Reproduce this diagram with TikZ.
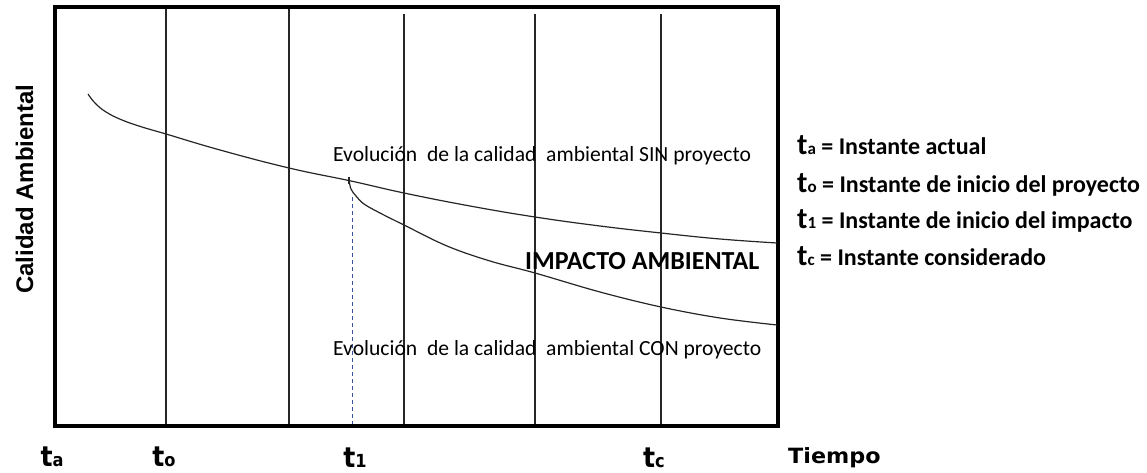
\documentclass[tikz,border=0pt]{standalone}
\usepackage{fontspec}
\usepackage{graphicx}
\setmainfont{Carlito}
\newfontfamily\lsans{Liberation Sans}
\newfontfamily\dvs{DejaVu Sans}
\definecolor{dashblue}{RGB}{60,80,160}
\tikzset{
  frame/.style={line width=4pt},
  vline/.style={line width=1.1pt, black!85},
  curve/.style={line width=1.2pt, black!85},
  dashline/.style={line width=1pt, dashblue, dash pattern=on 4pt off 3pt},
  inner/.style={font=\fontsize{21.6}{24}\selectfont, inner sep=0pt, anchor=base west},
  impact/.style={font=\bfseries\fontsize{26}{28}\selectfont, inner sep=0pt, anchor=base west},
  legend/.style={font=\bfseries\fontsize{24}{26}\selectfont, inner sep=0pt, anchor=base west},
  tick/.style={font=\dvs\bfseries, inner sep=0pt, anchor=base},
  ylab/.style={font=\lsans\bfseries\fontsize{24}{26}\selectfont, inner sep=0pt, anchor=base, rotate=90}
}
\newcommand{\bigt}[1]{{\fontsize{30}{30}\selectfont t}{\fontsize{17}{18}\selectfont #1}}
\newcommand{\axt}[1]{\smash{\scalebox{0.9}[1]{{\fontsize{28}{30}\selectfont t}{\fontsize{18}{20}\selectfont #1}}}}
\begin{document}
\begin{tikzpicture}[x=1pt,y=-1pt]
\useasboundingbox (0,0) rectangle (1147,473);
% frame corners
\coordinate (tl) at (54.5,7.5);
\coordinate (br) at (777.5,426);
% vertical lines
\foreach \xx/\yy/\nm in {166/8/v1, 289/8/v2, 404/14/v3, 535/14/v4, 661/14/v5}{
  \coordinate (\nm top) at (\xx,\yy);
  \coordinate (\nm bot) at (\xx,426);
  \draw[vline] (\nm top) -- (\nm bot);
}
\draw[frame, line join=miter] (tl) rectangle (br);
% dashed line at t1
\coordinate (d1) at (352,197);
\coordinate (d2) at (352,424);
\draw[dashline] (d1) -- (d2);
% upper curve (sin proyecto)
\draw[curve] plot[smooth, tension=0.7] coordinates {(88,94) (95,103) (106,112) (122,120) (142,127) (166,134) (220,150) (289,168) (351,181) (404,193) (470,206) (535,217) (600,226) (661,233) (720,239) (777,243)};
% tick at t1
\coordinate (k1) at (349,177);
\coordinate (k2) at (349,184);
\draw[curve] (k1) -- (k2);
% lower curve (con proyecto)
\draw[curve] plot[smooth, tension=0.6] coordinates {(349,180) (351,189) (356,196) (364,204) (380,213) (404,225) (447,246) (490,261) (535,273) (600,292) (661,307) (720,318) (777,325)};
% texts inside
\node[inner] (sin) at (333,162) {Evolución\ \ de la calidad\ \ ambiental SIN\ proyecto};
\node[impact] (imp) at (525,269) {IMPACTO AMBIENTAL};
\node[inner] (con) at (333,355) {Evolución\ \ de la calidad\ \ ambiental CON\ proyecto};
% legend
\node[legend] (la) at (797,155) {\bigt{a} = Instante actual};
\node[legend] (lo) at (797,192) {\bigt{o} = Instante de inicio del proyecto};
\node[legend] (l1) at (797,228) {\bigt{1} = Instante de inicio del impacto};
\node[legend] (lc) at (797,265) {\bigt{c} = Instante considerado};
% axis labels
\node[ylab] (yl) at (33,189) {Calidad Ambiental};
\node[tick] (ta) at (52,466) {\axt{a}};
\node[tick] (to) at (164,466) {\axt{o}};
\node[tick] (t1) at (355,467) {\axt{1}};
\node[tick] (tc) at (654,467) {\axt{c}};
\node[tick, anchor=base west, font=\dvs\bfseries\fontsize{21}{24}\selectfont] (tiempo) at (788,463) {\scalebox{1.06}[1]{Tiempo}};
\end{tikzpicture}
\end{document}
